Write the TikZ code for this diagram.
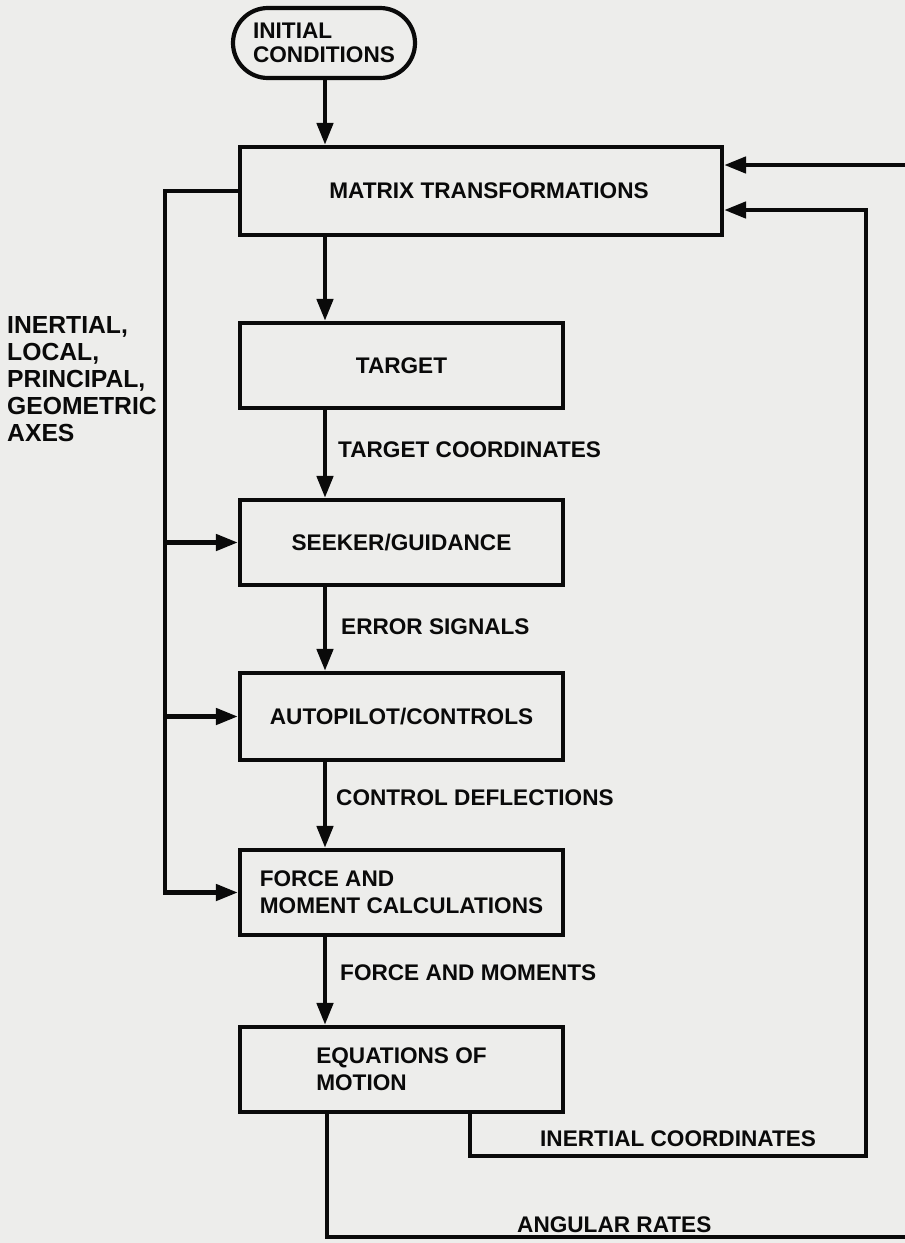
\documentclass[tikz,border=0pt]{standalone}
\usepackage{fontspec}
\setmainfont{Liberation Sans}
\usetikzlibrary{arrows.meta,shapes.misc,calc}
\definecolor{paper}{RGB}{237,237,235}
\definecolor{ink}{RGB}{10,10,10}
\begin{document}
\begin{tikzpicture}[x=1pt,y=-1pt,
  boxfont/.style={font=\bfseries\fontsize{22.6}{27}\selectfont},
  box/.style={draw=ink,line width=4.2pt,rectangle,minimum width=323pt,minimum height=85pt,inner sep=0pt,boxfont,text=ink,align=left},
  lbl/.style={anchor=west,inner sep=0pt,boxfont,text=ink},
  wire/.style={draw=ink,line width=4.6pt},
  arw/.style={wire,-{Triangle[length=22pt,width=16pt]}},
]
\useasboundingbox (0,0) rectangle (905,1243);
\fill[paper] (0,0) rectangle (905,1243);
\clip (0,0) rectangle (905,1243);

% nodes
\node[draw=ink,line width=4.2pt,rounded rectangle,minimum width=182pt,minimum height=70pt,inner sep=0pt,align=left,text=ink,font=\bfseries\fontsize{22.6}{24}\selectfont] (init) at (324,43) {INITIAL\\CONDITIONS};
\node[box,minimum width=482pt,minimum height=88pt] (mt) at (481,191) {\hspace*{16pt}MATRIX TRANSFORMATIONS};
\node[box] (target) at (401.5,365.5) {TARGET};
\node[box] (seeker) at (401.5,542.5) {SEEKER/GUIDANCE};
\node[box,minimum height=87pt] (auto) at (401.5,716.5) {AUTOPILOT/CONTROLS};
\node[box] (fm) at (401.5,892.5) {FORCE AND\\MOMENT CALCULATIONS};
\node[box] (eom) at (401.5,1069.5) {EQUATIONS OF\\MOTION};

% labels
\node[lbl] (tc) at (338,450) {TARGET COORDINATES};
\node[lbl] (es) at (341,627) {ERROR SIGNALS};
\node[lbl] (cd) at (336,798) {CONTROL DEFLECTIONS};
\node[lbl] (fam) at (340,973) {FORCE AND MOMENTS};
\node[lbl] (iclab) at (540,1139) {INERTIAL COORDINATES};
\node[lbl] (arlab) at (517,1225) {ANGULAR RATES};
\node[lbl,align=left,font=\bfseries\fontsize{24.7}{27}\selectfont] (axes) at (7,379) {INERTIAL,\\LOCAL,\\PRINCIPAL,\\GEOMETRIC\\AXES};

% helper coordinates
\coordinate (spine) at (325,0);
\coordinate (bus) at (165,0);
\coordinate (mtin) at ([yshift=-19pt]mt.east);
\coordinate (mtfb) at ([yshift=26pt]mt.east);
\coordinate (icl) at (470,1156);
\coordinate (icr) at (866,1156);
\coordinate (arl) at (327,1237);
\coordinate (arx) at (918,1237);

% main chain
\draw[arw] (spine |- init.south) -- (spine |- mt.north);
\draw[arw] (spine |- mt.south) -- (spine |- target.north);
\draw[arw] (spine |- target.south) -- (spine |- seeker.north);
\draw[arw] (spine |- seeker.south) -- (spine |- auto.north);
\draw[arw] (spine |- auto.south) -- (spine |- fm.north);
\draw[arw] (spine |- fm.south) -- (spine |- eom.north);

% axes bus
\draw[arw] (mt.west) -- (bus |- mt.west) -- (bus |- fm.west) -- (fm.west);
\draw[arw] (bus |- seeker.west) -- (seeker.west);
\draw[arw] (bus |- auto.west) -- (auto.west);

% feedback loops
\draw[arw] (icl |- eom.south) -- (icl) -- (icr) -- (icr |- mtin) -- (mtin);
\draw[arw] (arl |- eom.south) -- (arl) -- (arx) -- (arx |- mtfb) -- (mtfb);
\end{tikzpicture}
\end{document}
